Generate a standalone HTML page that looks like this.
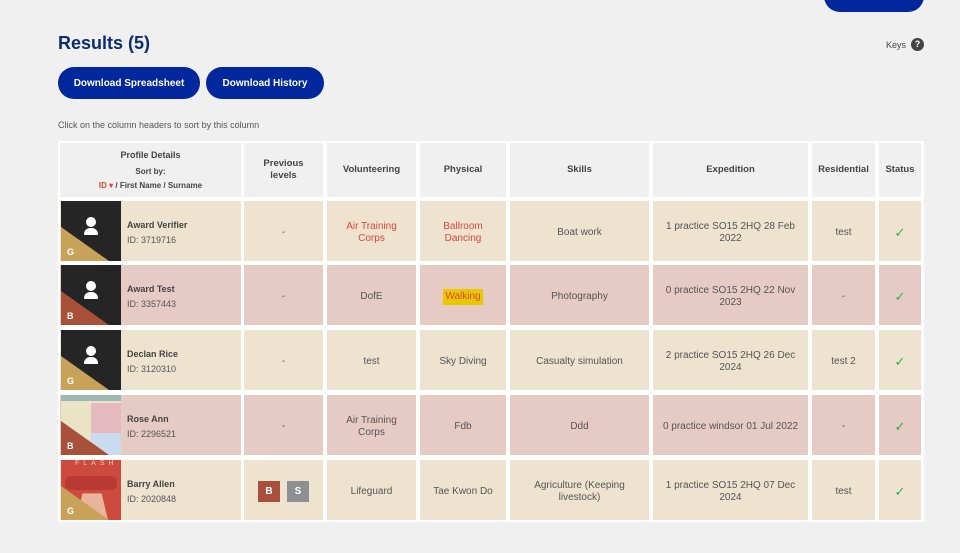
<!DOCTYPE html>
<html><head><meta charset="utf-8"><style>
*{margin:0;padding:0;box-sizing:border-box}
body{width:960px;height:553px;background:#f0f0f0;font-family:"Liberation Sans",sans-serif;position:relative;overflow:hidden;color:#444}
.a{position:absolute}
.btn{position:absolute;background:#00279b;color:#fff;font-weight:bold;font-size:10px;border-radius:16px;display:flex;align-items:center;justify-content:center}
.tbl{position:absolute;left:58px;top:141px;width:866px;height:381px;background:#fff}
.c{position:absolute;display:flex;align-items:center;justify-content:center;text-align:center;font-size:10px;line-height:12px;color:#555;padding-top:3px}
.h{background:#f0f0f0;font-weight:bold;color:#444;font-size:9.5px;padding-top:0}
.y{background:#ede3cf}.p{background:#e6cac4}
.r{color:#e0463c}
.img{position:absolute;width:60px;background:#252525;overflow:hidden}
.tri{position:absolute;left:0;bottom:0;width:0;height:0;border-right:42px solid transparent}
.lv{position:absolute;left:6px;bottom:4px;color:#fff;font-weight:bold;font-size:9px}
.nm{position:absolute;font-size:9px;font-weight:bold;color:#444}
.id{position:absolute;font-size:9px;color:#555}
.chk{color:#2bb24c;font-size:13px;font-weight:300}
</style></head><body>
<div class="btn" style="left:824px;top:-20px;width:100px;height:32px"></div>
<div class="a" style="left:58px;top:33px;font-size:18px;font-weight:bold;color:#0a2d6e">Results (5)</div>
<div class="a" style="left:886px;top:40px;font-size:9px;color:#444">Keys</div>
<div class="a" style="left:911px;top:38px;width:13px;height:13px;border-radius:50%;background:#444;color:#fff;font-size:9px;font-weight:bold;text-align:center;line-height:13px">?</div>
<div class="btn" style="left:58px;top:67px;width:142px;height:32px">Download Spreadsheet</div>
<div class="btn" style="left:206px;top:67px;width:118px;height:32px">Download History</div>
<div class="a" style="left:58px;top:120px;font-size:9px;color:#555">Click on the column headers to sort by this column</div>
<div class="tbl"></div>
<div class="c h" style="left:60px;top:143px;width:181px;height:54px;flex-direction:column"><div style="font-size:9px">Profile Details</div><div style="font-size:8px;margin-top:5px">Sort by:</div><div style="font-size:8px;margin-top:2px"><span class="r">ID ▾</span> / First Name / Surname</div></div>
<div class="c h" style="left:244px;top:143px;width:79px;height:54px">Previous<br>levels</div>
<div class="c h" style="left:327px;top:143px;width:89px;height:54px">Volunteering</div>
<div class="c h" style="left:420px;top:143px;width:86px;height:54px">Physical</div>
<div class="c h" style="left:510px;top:143px;width:139px;height:54px">Skills</div>
<div class="c h" style="left:653px;top:143px;width:155px;height:54px">Expedition</div>
<div class="c h" style="left:812px;top:143px;width:63px;height:54px">Residential</div>
<div class="c h" style="left:879px;top:143px;width:42px;height:54px">Status</div>
<div id="rows"></div>
<script>
const rows=[
["y",201,"G","#c9a25a","Award Verifier","3719716","-",'<span class="r">Air Training<br>Corps</span>','<span class="r">Ballroom<br>Dancing</span>',"Boat work","1 practice SO15 2HQ 28 Feb<br>2022","test"],
["p",265,"B","#a9503a","Award Test","3357443","-","DofE",'<span class="r" style="background:#e8c800;padding:2px 2px">Walking</span>',"Photography","0 practice SO15 2HQ 22 Nov<br>2023","-"],
["y",330,"G","#c9a25a","Declan Rice","3120310","-","test","Sky Diving","Casualty simulation","2 practice SO15 2HQ 26 Dec<br>2024","test 2"],
["p",395,"B","#a9503a","Rose Ann","2296521","-","Air Training<br>Corps","Fdb","Ddd","0 practice windsor 01 Jul 2022","-"],
["y",460,"G","#c9a25a","Barry Allen","2020848",'<span style="background:#a9503a;color:#fff;font-weight:bold;width:22px;height:21px;display:inline-block;line-height:21px">B</span><span style="background:#8e8f93;color:#fff;font-weight:bold;width:22px;height:21px;display:inline-block;line-height:21px;margin-left:7px">S</span>',"Lifeguard","Tae Kwon Do","Agriculture (Keeping<br>livestock)","1 practice SO15 2HQ 07 Dec<br>2024","test"]];
let h="";
const cols=[[244,79],[327,89],[420,86],[510,139],[653,155],[812,63]];
rows.forEach((r,i)=>{
 const t=r[1],ht=60;
 let imgbg="#252525",inner='<div style="position:absolute;left:25px;top:16px;width:10px;height:10px;border-radius:50%;background:#fff"></div><div style="position:absolute;left:23px;top:27px;width:14px;height:7px;border-radius:7px 7px 1px 1px;background:#fff"></div>';
 if(i==3){imgbg="#e9e4c6";inner='<div style="position:absolute;left:30px;top:8px;width:30px;height:30px;background:#e4b9bf"></div><div style="position:absolute;left:0;top:0;width:60px;height:6px;background:#9fb7b3"></div><div style="position:absolute;left:30px;top:38px;width:30px;height:22px;background:#c9dcef"></div>';}
 if(i==4){imgbg="#cd4a3f";inner='<div style="position:absolute;left:14px;top:0;color:#f0c8b0;font-size:7px;letter-spacing:4px">FLASH</div><div style="position:absolute;left:15px;top:22px;width:32px;height:38px;background:#e8b59a;clip-path:polygon(20% 30%,80% 30%,100% 100%,0 100%)"></div><div style="position:absolute;left:4px;top:16px;width:52px;height:14px;background:#b83a33;border-radius:6px"></div>';}
 h+=`<div class="c ${r[0]}" style="left:60px;top:${t}px;width:181px;height:${ht}px"></div>`;
 h+=`<div class="img" style="left:61px;top:${t}px;height:${ht}px;background:${imgbg}">${inner}<div class="tri" style="border-bottom:34px solid ${r[3]};border-right-width:48px"></div><div class="lv">${r[2]}</div></div>`;
 h+=`<div class="nm" style="left:127px;top:${t+19}px">${r[4]}</div><div class="id" style="left:127px;top:${t+34}px">ID: <span style="font-size:9px">${r[5]}</span></div>`;
 for(let k=0;k<6;k++)h+=`<div class="c ${r[0]}" style="left:${cols[k][0]}px;top:${t}px;width:${cols[k][1]}px;height:${ht}px">${r[6+k]}</div>`;
 h+=`<div class="c ${r[0]}" style="left:879px;top:${t}px;width:42px;height:${ht}px"><span class="chk">✓</span></div>`;
});
document.getElementById("rows").innerHTML=h;
</script>
</body></html>
